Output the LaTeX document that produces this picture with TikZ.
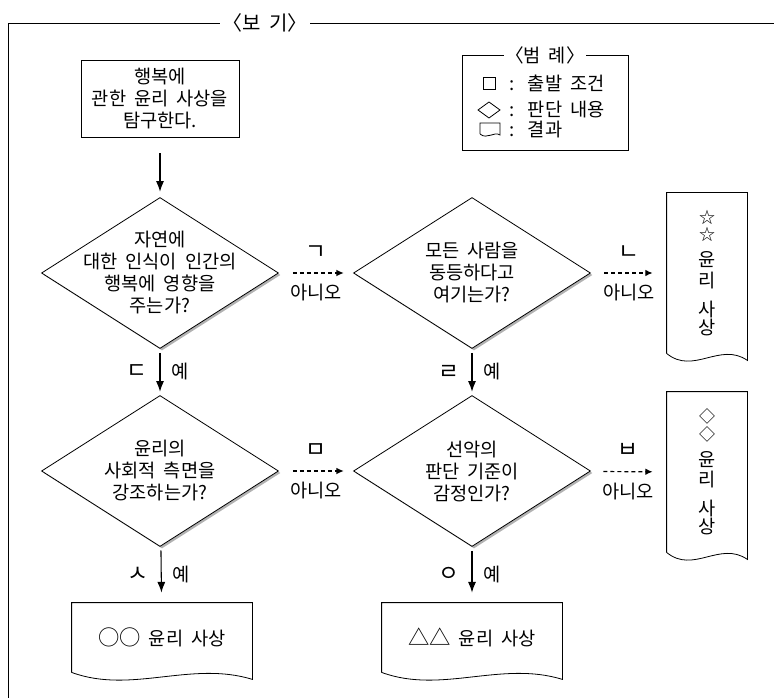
\documentclass[tikz,border=0pt]{standalone}
\usepackage{fontspec}
\setmainfont[WordSpace=1.9]{Noto Sans CJK KR}
\usetikzlibrary{shapes.geometric,shadows,arrows.meta,calc}

% outline of a result box: straight top and sides, wavy bottom
\newcommand{\wavyedge}[1]{%
  \draw (#1.south west) -- (#1.north west) -- (#1.north east) -- ($(#1.south east)+(0,7)$)
    .. controls ($(#1.south west)!0.66!(#1.south east)+(0,-12)$)
    and ($(#1.south west)!0.33!(#1.south east)+(0,22)$) .. (#1.south west);}
\newcommand{\marksym}[1]{{\fontsize{12}{12}\selectfont #1}}

\begin{document}
\begin{tikzpicture}[x=0.75pt, y=-0.75pt, line width=0.6pt,
    font=\fontsize{14}{16.5}\selectfont,
    startbox/.style={draw, minimum width=118.5pt, minimum height=57.75pt, align=center},
    decision/.style={diamond, draw, fill=white, inner sep=0pt,
      minimum width=177.75pt, minimum height=113.25pt,
      drop shadow={shadow xshift=1.5pt, shadow yshift=-1.5pt, fill=black!30, opacity=1}},
    question/.style={align=center},
    sideresult/.style={minimum width=60pt, minimum height=120pt, inner sep=0pt, align=center},
    endresult/.style={minimum width=135pt, minimum height=51.75pt, inner sep=0pt},
    yesarrow/.style={line width=0.8pt, -{Latex[length=8pt, width=6pt]}},
    noarrow/.style={line width=0.9pt, dash pattern=on 3pt off 2.25pt,
      -{Latex[length=5.5pt, width=5pt]}},
    tag/.style={inner sep=0pt},
    jamo/.style={inner sep=0pt, font=\fontsize{17}{17}\selectfont}]
  \useasboundingbox (0,0) rectangle (774,698);

  % frame and title
  \draw (8,698) -- (8,23) -- (774,23);
  \node[fill=white, inner xsep=2pt, inner ysep=0pt, font=\fontsize{15}{15}\selectfont]
    (title) at (265,23) {〈보 기〉};

  % legend
  \draw (462,55) rectangle (628,150);
  \node[fill=white, inner xsep=1pt, inner ysep=0pt] (legtitle) at (545,55) {〈범 례〉};
  \draw (483,77) rectangle (495,89);
  \draw (478,110) -- (489,102) -- (500,110) -- (489,118) -- cycle;
  \draw (480,134) -- (480,123) -- (500,123) -- (500,135)
    .. controls (494,131) and (487,140) .. (480,134);
  \node[tag, anchor=west] (leg1) at (509,83) {:\hspace{10pt}출발 조건};
  \node[tag, anchor=west] (leg2) at (509,110) {:\hspace{10pt}판단 내용};
  \node[tag, anchor=west] (leg3) at (509,130) {:\hspace{10pt}결과};

  % boxes
  \node[startbox] (start) at (160,98.5) {행복에\\관한 윤리 사상을\\탐구한다.};

  \node[decision] (d1) at (160,273) {};
  \node[question] (q1) at (d1) {자연에\\대한 인식이 인간의\\행복에 영향을\\주는가?};
  \node[decision] (d2) at (472,273) {};
  \node[question] (q2) at (d2) {모든 사람을\\동등하다고\\여기는가?};
  \node[decision] (d3) at (160,471) {};
  \node[question] (q3) at (d3) {윤리의\\사회적 측면을\\강조하는가?};
  \node[decision] (d4) at (472,471) {};
  \node[question] (q4) at (d4) {선악의\\판단 기준이\\감정인가?};

  \node[sideresult] (r1) at (707,273)
    {\marksym{☆}\\[-3.5pt]\marksym{☆}\\[3pt]윤\\[-1pt]리\\[5pt]사\\[-3pt]상};
  \wavyedge{r1}
  \node[sideresult] (r2) at (707,472)
    {\marksym{◇}\\[-3.5pt]\marksym{◇}\\[3pt]윤\\[-1pt]리\\[5pt]사\\[-3pt]상};
  \wavyedge{r2}
  \node[endresult] (b1) at (162,637.5) {{\fontsize{16}{16}\selectfont ○○}~윤리 사상};
  \wavyedge{b1}
  \node[endresult] (b2) at (472,637.5) {{\fontsize{16}{16}\selectfont △△}~윤리 사상};
  \wavyedge{b2}

  % connectors
  \draw[yesarrow, shorten <=12pt, shorten >=4pt] (start) -- (d1);
  \draw[noarrow, shorten <=10.5pt, shorten >=7pt] (d1) --
    node[jamo, above=10pt] (lga) {ㄱ} node[tag, below=8pt] (lgb) {아니오} (d2);
  \draw[noarrow, shorten <=10pt, shorten >=10.5pt] (d2) --
    node[jamo, above=10pt] (lna) {ㄴ} node[tag, below=8pt] (lnb) {아니오} (r1);
  \draw[yesarrow, shorten <=3pt, shorten >=2.5pt] (d1) --
    node[jamo, left=9pt] (ld) {ㄷ} node[tag, right=8pt] (ydy) {예} (d3);
  \draw[yesarrow, shorten <=3pt, shorten >=2.5pt] (d2) --
    node[jamo, left=9pt] (lr) {ㄹ} node[tag, right=8pt] (yry) {예} (d4);
  \draw[noarrow, shorten <=10.5pt, shorten >=7pt] (d3) --
    node[jamo, above=10pt] (lma) {ㅁ} node[tag, below=8pt] (lmb) {아니오} (d4);
  \draw[noarrow, shorten <=10pt, shorten >=10.5pt] (d4) --
    node[jamo, above=10pt] (lba) {ㅂ} node[tag, below=8pt] (lbb) {아니오} (r2);
  \draw[yesarrow, shorten <=3pt, shorten >=7.5pt] (d3) --
    node[jamo, left=9pt] (ls) {ㅅ} node[tag, right=8pt] (ysy) {예} (b1);
  \draw[yesarrow, shorten <=3pt, shorten >=7.5pt] (d4) --
    node[jamo, left=9pt] (lo) {ㅇ} node[tag, right=8pt] (yoy) {예} (b2);
\end{tikzpicture}
\end{document}
